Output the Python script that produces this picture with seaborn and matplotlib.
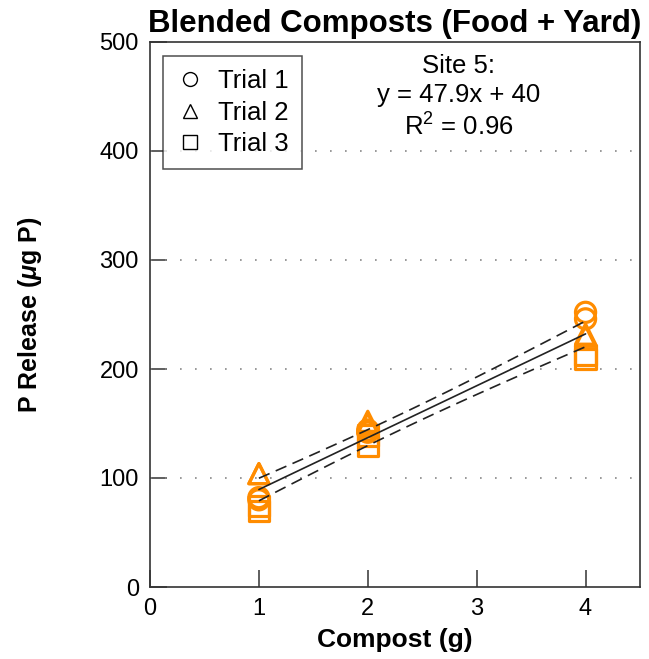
import numpy as np
import pandas as pd
import matplotlib
matplotlib.use("Agg")
import matplotlib.pyplot as plt
import seaborn as sns
from matplotlib.lines import Line2D

# ---- data ----
compost = [1, 1, 2, 2, 4, 4]
trial1 = [82, 80, 144, 142, 252, 246]
trial2 = [104, 104, 152, 150, 230, 232]
trial3 = [74, 70, 139, 129, 213, 209]
trial_names = ["Trial 1", "Trial 2", "Trial 3"]
trial_markers = ["o", "^", "s"]
title = "Blended Composts (Food + Yard)"
annot = "Site 5:\ny = 47.9x + 40\nR$^2$ = 0.96"
xticks = [0, 1, 2, 3, 4]
yticks = [0, 100, 200, 300, 400, 500]

df = pd.DataFrame({
    "Compost": compost * 3,
    "P": trial1 + trial2 + trial3,
    "Trial": sum([[n] * len(compost) for n in trial_names], []),
})

sns.set_theme(style="white")
plt.rcParams["font.family"] = ["Liberation Sans", "DejaVu Sans"]
plt.rcParams["mathtext.fontset"] = "custom"
plt.rcParams["mathtext.rm"] = "Liberation Sans"
plt.rcParams["mathtext.it"] = "Liberation Sans:italic"
plt.rcParams["mathtext.bf"] = "Liberation Sans:bold"
plt.rcParams["mathtext.bfit"] = "Liberation Sans:bold:italic"
plt.rcParams["text.color"] = "black"
plt.rcParams["axes.labelcolor"] = "black"
plt.rcParams["xtick.color"] = "black"
plt.rcParams["ytick.color"] = "black"

fig = plt.figure(figsize=(6.49, 6.59), dpi=100)
ax = fig.add_axes([150 / 649, 1 - 587 / 659, 490 / 649, 545 / 659])

orange = "#FF8C00"
for name, mk in zip(trial_names, trial_markers):
    sub = df[df["Trial"] == name]
    sns.scatterplot(data=sub, x="Compost", y="P", marker=mk, s=210,
                    facecolor="none", edgecolor=orange, linewidth=2.3,
                    ax=ax, legend=False, zorder=3)

# regression line and 95% confidence band of the mean
x = df["Compost"].to_numpy(float)
y = df["P"].to_numpy(float)
slope, intercept = np.polyfit(x, y, 1)
n = len(x)
resid = y - (slope * x + intercept)
s = np.sqrt(np.sum(resid ** 2) / (n - 2))
sxx = np.sum((x - x.mean()) ** 2)
xf = np.linspace(1, 4, 100)
yf = slope * xf + intercept
half = 2.12 * s * np.sqrt(1 / n + (xf - x.mean()) ** 2 / sxx)
sns.lineplot(x=xf, y=yf, color="#222222", linewidth=1.2, ax=ax, zorder=4)
sns.lineplot(x=xf, y=yf + half, color="#222222", linewidth=1.2, ax=ax,
             linestyle=(0, (7, 4)), zorder=4)
sns.lineplot(x=xf, y=yf - half, color="#222222", linewidth=1.2, ax=ax,
             linestyle=(0, (7, 4)), zorder=4)

ax.set_xlim(0, 4.5)
ax.set_ylim(0, 500)
ax.set_xticks(xticks)
ax.set_yticks(yticks)
ax.tick_params(direction="in", length=12, width=1.1, labelsize=17,
               color="#333333", labelcolor="black", pad=8, left=True, bottom=True)
for yv in yticks[1:-1]:
    ax.axhline(yv, color="#888888", linewidth=1.2, linestyle=(0, (1, 8)), zorder=1)
for sp in ax.spines.values():
    sp.set_color("#333333")
    sp.set_linewidth(1.2)

ax.set_xlabel("Compost (g)", fontsize=19, fontweight="bold", labelpad=6)
ax.set_ylabel(r"P Release ($\mathbfit{\mu}$g P)", fontsize=18, fontweight="bold", labelpad=40)
ax.set_title(title, fontsize=22.5, fontweight="bold", pad=7.5)

ax.text(0.63, 0.978, annot, transform=ax.transAxes, ha="center", va="top",
        fontsize=18.5, linespacing=1.28)

handles = [Line2D([], [], marker=mk, linestyle="none", markerfacecolor="none",
                  markeredgecolor="black", markersize=10, markeredgewidth=1)
           for mk in trial_markers]
leg = ax.legend(handles, trial_names, loc="upper left", bbox_to_anchor=(0.0265, 0.974),
                fontsize=18.5, frameon=True, fancybox=False, borderpad=0.5,
                labelspacing=0.3, handletextpad=0.56, handlelength=1.1,
                borderaxespad=0)
leg.get_frame().set_edgecolor("#222222")
leg.get_frame().set_linewidth(1.1)

fig.savefig("out.png", dpi=100)
